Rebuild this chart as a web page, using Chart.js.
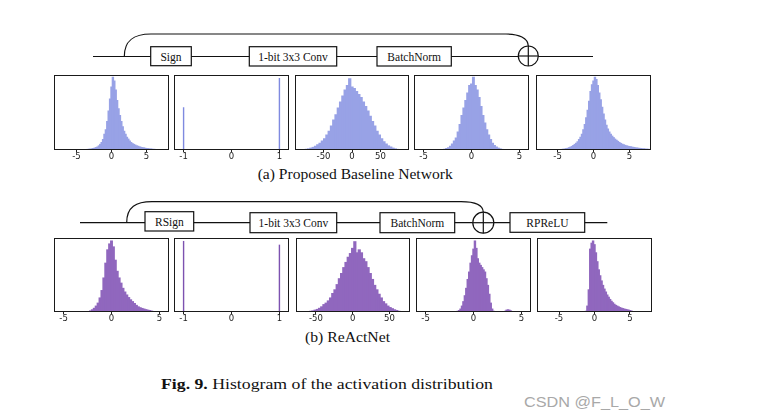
<!DOCTYPE html>
<html><head><meta charset="utf-8">
<script src="https://cdn.jsdelivr.net/npm/chart.js@4.4.1/dist/chart.umd.min.js"></script>
<style>
html,body{margin:0;padding:0;background:#fff;}
body{width:757px;height:420px;overflow:hidden;position:relative;}
#diag{position:absolute;left:0;top:0;}
.pc{position:absolute;}
</style></head><body>
<svg id="diag" width="757" height="420" xmlns="http://www.w3.org/2000/svg">
 <g stroke="#111" fill="none" stroke-width="1.2">
  <line x1="93" y1="56.5" x2="593" y2="56.5"/>
  <path d="M124.3,56.5 C124.3,40 134,34 151,34 L506,34 C519,34 528,38 528.3,46"/>
  <rect x="150.7" y="46.7" width="40.6" height="19" fill="#fff"/>
  <rect x="249.3" y="46.7" width="87.4" height="19.3" fill="#fff"/>
  <rect x="377" y="46.7" width="74.3" height="19.3" fill="#fff"/>
  <circle cx="528.3" cy="56" r="10" fill="#fff"/>
  <line x1="518.3" y1="56" x2="538.3" y2="56"/>
  <line x1="528.3" y1="46" x2="528.3" y2="66"/>

  <line x1="80" y1="222.7" x2="607.3" y2="222.7"/>
  <path d="M126.7,222.7 C126.7,207 136,201.7 152,201.7 L461,201.7 C474,201.7 483,205 483.3,212.2"/>
  <rect x="145" y="211.7" width="48.7" height="19.3" fill="#fff"/>
  <rect x="250" y="212.7" width="86.7" height="20" fill="#fff"/>
  <rect x="380" y="212.7" width="74.7" height="20" fill="#fff"/>
  <rect x="510" y="212.7" width="74.7" height="19.6" fill="#fff"/>
  <circle cx="483.3" cy="222.7" r="10.5" fill="#fff"/>
  <line x1="472.8" y1="222.7" x2="493.8" y2="222.7"/>
  <line x1="483.3" y1="212.2" x2="483.3" y2="233.2"/>
 </g>
 <g font-family="'Liberation Serif','Times New Roman',serif" font-size="11.5" fill="#111" text-anchor="middle" dominant-baseline="central">
  <text x="171" y="56.5">Sign</text>
  <text x="293" y="56.5">1-bit 3x3 Conv</text>
  <text x="414.2" y="56.5">BatchNorm</text>
  <text x="169.4" y="221.5">RSign</text>
  <text x="293.4" y="222.7">1-bit 3x3 Conv</text>
  <text x="417.4" y="222.7">BatchNorm</text>
  <text x="547.4" y="222.5">RPReLU</text>
 </g>
 <g font-family="'Liberation Serif','Times New Roman',serif" fill="#111" dominant-baseline="central">
  <text x="257.7" y="173.3" font-size="15.5" textLength="195" lengthAdjust="spacingAndGlyphs">(a) Proposed Baseline Network</text>
  <text x="305" y="336" font-size="15.5" textLength="85" lengthAdjust="spacingAndGlyphs">(b) ReActNet</text>
  <text x="161" y="384" font-size="15" textLength="332" lengthAdjust="spacingAndGlyphs"><tspan font-weight="bold">Fig. 9.</tspan> Histogram of the activation distribution</text>
 </g>
 <text x="524" y="401.7" font-family="'Liberation Sans',Arial,sans-serif" font-size="15" fill="#a8a8a8" dominant-baseline="central" textLength="141" lengthAdjust="spacingAndGlyphs">CSDN @F_L_O_W</text>
</svg>

<script>
// ---------- DATA ----------
// (a) Proposed Baseline Network  (bin centres: start + i*step)
const a1Start = -3.6, a1Step = 0.2;
const a1Counts = [0.5,0.8,1,1.2,1.5,2,2.5,3.2,4,5.5,7.5,10,14,21,27,38,52,68,84,97,92,80,66,55,46,38,31,25,21,17,14.5,12,10,8.5,7.5,6.5,5.5,5,4.2,3.6,3.2,2.8,2.4,2,1.8,1.5,1.3,1.1,0.9,0.8,0.6,0.4];
const a2X = [-1, 1];
const a2Counts = [57, 96];
const a3Start = -84, a3Step = 4;
const a3Counts = [0.5,1,1.5,2.5,3.5,5,7,9,12,15,20,25,32,40,47,56,64,72,80,86,95,84,82,78,74,70,64,58,52,45,38,32,25,20,15,11,8,5.5,4,2.5,1.5,0.8,0.3];
const a4Start = -3.0, a4Step = 0.2;
const a4Counts = [0.5,1,2,3,5,8,12,16,24,34,46,56,66,76,86,88,97,86,80,70,58,46,36,27,20,14,9,6,4,2.5,1.5,0.8,0.4];
const a5Start = -4.6, a5Step = 0.2;
const a5Counts = [0.5,0.8,1,1.3,1.7,2.2,3,3.8,4.8,6,7.5,9,11,14,17,21,27,34,43,53,65,78,87,92,97,94,86,76,67,57,48,40,33,28,24,21,18.5,16.5,14.5,13,11.5,10,8.8,7.8,7,6.2,5.6,5,4.6,4.2,3.8,3.4,3,2.7,2.4,2.2,2,1.7,1.5,1.3,1.1,1,0.8];

// (b) ReActNet
const b1Start = -2.4, b1Step = 0.2;
const b1Counts = [0.5,1.5,3,5,8,12,19,29,46,66,84,92,96,88,70,55,46,39,32,27,23,19.5,16.5,14,11.5,9,7,5.8,4.8,4,3.2,2.5,2,1.2,0.5];
const b2X = [-1, 1];
const b2Counts = [96, 91];
const b3Start = -57, b3Step = 3;
const b3Counts = [1,1.5,2.5,3.5,5,7,10,12,15,19,25,30,37,45,52,60,67,74,79,86,95,80,84,80,72,68,60,52,44,36,30,24,19,14,11,8,6,4.5,3,2,1,0.5];
const b4Start = -1.8, b4Step = 0.15;
const b4Counts = [0.5,1,2,4,8,14,22,32,44,54,66,76,85,96,86,72,66,63,60,57,54,45,36,24,12,4,1,0,0,0,0,0,0,0.5,1,2.5,3,2.5,1.5,0.5];
const b5Start = -1.2, b5Step = 0.2;
const b5Counts = [1,8,30,85,93,96,91,80,68,57,49,42,36,31,27,23,20,17,14.5,12.5,10.5,9,8,7,6,5.2,4.6,4,3.5,3,2.6,2,1.4,0.6];

// tick labels
const ticksFive = [-5, 0, 5];
const ticksOne = [-1, 0, 1];
const ticksFifty = [-50, 0, 50];

// ---------- STYLE / LAYOUT ----------
const colorA = '#98a2e6';
const colorB = '#9067be';
const spikeA = '#7f8ae0';
const spikeB = '#7d52b0';

function binned(start, step, counts) {
  return counts.map((c, i) => ({ x: start + i * step, y: c }));
}
function spikes(xs, counts) {
  return xs.map((x, i) => ({ x: x, y: counts[i] }));
}

const panels = [
  { left: 54,  top: 75,  w: 115, h: 75, min: -8.2, max: 8.2, data: binned(a1Start, a1Step, a1Counts), ticks: ticksFive,  color: colorA },
  { left: 174, top: 75,  w: 115, h: 75, min: -1.2, max: 1.2, data: spikes(a2X, a2Counts),             ticks: ticksOne,   color: spikeA, spike: true },
  { left: 295, top: 75,  w: 114, h: 75, min: -100, max: 100, data: binned(a3Start, a3Step, a3Counts), ticks: ticksFifty, color: colorA },
  { left: 414, top: 75,  w: 115, h: 75, min: -6,   max: 6,   data: binned(a4Start, a4Step, a4Counts), ticks: ticksFive,  color: colorA },
  { left: 536, top: 75,  w: 115, h: 75, min: -8,   max: 8,   data: binned(a5Start, a5Step, a5Counts), ticks: ticksFive,  color: colorA },
  { left: 54,  top: 238, w: 115, h: 74, min: -6,   max: 6,   data: binned(b1Start, b1Step, b1Counts), ticks: ticksFive,  color: colorB },
  { left: 174, top: 238, w: 115, h: 74, min: -1.2, max: 1.2, data: spikes(b2X, b2Counts),             ticks: ticksOne,   color: spikeB, spike: true },
  { left: 296, top: 238, w: 114, h: 74, min: -77,  max: 78,  data: binned(b3Start, b3Step, b3Counts), ticks: ticksFifty, color: colorB },
  { left: 416, top: 238, w: 115, h: 74, min: -6,   max: 6,   data: binned(b4Start, b4Step, b4Counts), ticks: ticksFive,  color: colorB },
  { left: 537, top: 238, w: 115, h: 74, min: -8.1, max: 8.1, data: binned(b5Start, b5Step, b5Counts), ticks: ticksFive,  color: colorB }
];

const boxPlugin = {
  id: 'box',
  afterDraw(chart) {
    const a = chart.chartArea, ctx = chart.ctx;
    ctx.save();
    ctx.strokeStyle = '#1a1a1a';
    ctx.lineWidth = 1;
    ctx.strokeRect(Math.round(a.left) + 0.5, Math.round(a.top) + 0.5, Math.round(a.right - a.left) - 1, Math.round(a.bottom - a.top) - 1);
    ctx.restore();
  }
};

panels.forEach(p => {
  const d = document.createElement('div');
  d.className = 'pc';
  d.style.left = (p.left - 1) + 'px';
  d.style.top = (p.top - 1) + 'px';
  const c = document.createElement('canvas');
  c.width = p.w + 2;
  c.height = p.h + 16;
  c.style.width = c.width + 'px';
  c.style.height = c.height + 'px';
  d.appendChild(c);
  document.body.appendChild(d);
  const ds = { data: p.data, backgroundColor: p.color, borderWidth: 0, borderSkipped: false, grouped: false };
  if (p.spike) {
    ds.barThickness = 1.4;
    ds.inflateAmount = 0;
  } else {
    ds.barPercentage = 1;
    ds.categoryPercentage = 1;
    ds.inflateAmount = 0.5;
  }
  new Chart(c, {
    type: 'bar',
    data: { datasets: [ds] },
    options: {
      responsive: false, animation: false, devicePixelRatio: 1,
      layout: { padding: { left: 1, right: 1, top: 1, bottom: 0 } },
      plugins: { legend: { display: false }, tooltip: { enabled: false } },
      scales: {
        x: {
          type: 'linear', min: p.min, max: p.max, offset: false,
          grid: { display: true, drawOnChartArea: false, drawTicks: true, tickLength: 2, tickColor: '#222', offset: false },
          border: { display: false },
          afterBuildTicks: s => { s.ticks = p.ticks.map(v => ({ value: v })); },
          afterFit: s => { s.height = 15; },
          ticks: { autoSkip: false, maxRotation: 0, padding: 0, color: '#222', font: { family: 'DejaVu Sans', size: 8.5 }, callback: v => String(v) }
        },
        y: { display: false, min: 0, max: 100 }
      }
    },
    plugins: [boxPlugin]
  });
});
</script>
</body></html>
